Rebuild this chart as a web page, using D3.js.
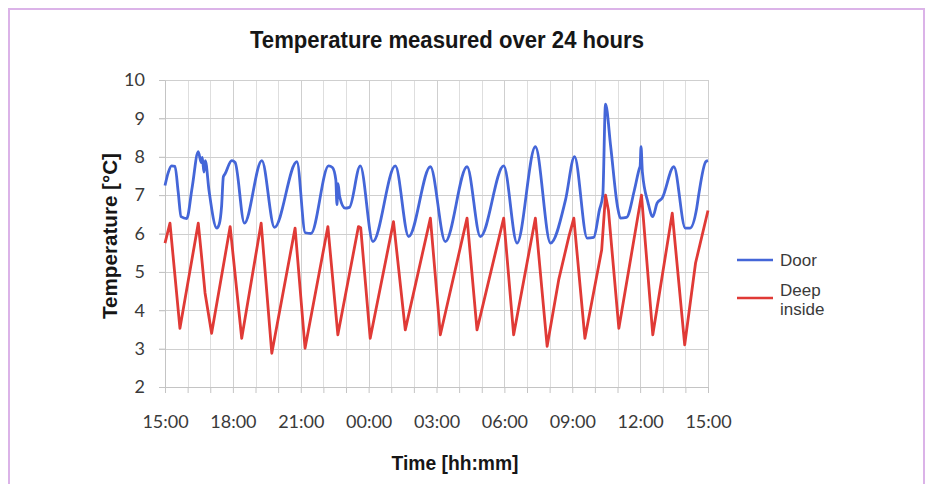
<!DOCTYPE html>
<meta charset="utf-8">
<style>
  body { margin: 0; background: #fff; }
  svg { display: block; }
  .axis text { font-family: Lato, "Open Sans", sans-serif; font-size: 18px; fill: #3a3a3a; }
  .axis path, .axis line { stroke: #c4c4c4; }
  .grid line { stroke: #dedede; shape-rendering: crispEdges; }
  .grid line.major { stroke: #cfcfcf; }
  .bold { font-family: "Liberation Sans Narrow", "Arial Narrow", "Liberation Sans", sans-serif; font-weight: bold; fill: #161616; }
  .legend text { font-family: "Liberation Sans", Arial, sans-serif; font-size: 17px; fill: #3a3a3a; }
</style>
<body>
<div id="chart"></div>
<script src="https://d3js.org/d3.v7.min.js"></script>
<script>
// hours after 15:00
const doorHours = [0, 0.15, 0.29, 0.44, 0.58, 0.71, 0.96, 1.2, 1.47, 1.6, 1.65, 1.72, 1.78, 1.95, 2.29, 2.4, 2.5, 2.58, 2.65, 2.95, 3.1, 3.51, 4.28, 4.84, 5.83, 6.2, 6.45, 7.23, 7.4, 7.55, 7.6, 7.65, 7.72, 7.96, 8.15, 8.63, 9.19, 10.18, 10.77, 11.73, 12.39, 13.35, 13.94, 14.97, 15.56, 16.37, 17.04, 17.7, 18.1, 18.66, 18.95, 19.2, 19.35, 19.47, 19.7, 20.0, 20.13, 20.4, 20.75, 20.97, 21.0, 21.04, 21.1, 21.35, 21.56, 21.75, 21.97, 22.49, 23.0, 23.2, 23.5, 23.6, 23.9, 24];
const doorTemp = [7.25, 7.6, 7.76, 7.75, 7.1, 6.44, 6.39, 7.2, 8.13, 7.85, 7.98, 7.6, 7.9, 7.1, 6.14, 6.25, 6.7, 7.48, 7.55, 7.9, 7.85, 6.27, 7.9, 6.16, 7.87, 6.02, 6.0, 7.76, 7.72, 7.4, 6.75, 7.3, 6.96, 6.66, 6.68, 7.76, 5.79, 7.76, 5.92, 7.74, 5.79, 7.74, 5.92, 7.76, 5.75, 8.26, 5.75, 6.87, 8.0, 5.88, 5.9, 6.61, 7.0, 9.37, 8.26, 6.7, 6.4, 6.42, 7.14, 7.7, 7.75, 8.26, 7.6, 6.8, 6.44, 6.79, 6.92, 7.74, 6.14, 6.14, 6.66, 7.05, 7.87, 7.9];

const deepHours = [0, 0.22, 0.66, 1.47, 1.6, 1.77, 2.06, 2.88, 3.39, 4.25, 4.72, 5.75, 6.19, 7.2, 7.64, 8.55, 8.65, 9.07, 10.1, 10.62, 11.73, 12.17, 13.35, 13.79, 14.97, 15.41, 16.37, 16.89, 17.4, 17.85, 18.07, 18.56, 19.3, 19.47, 19.6, 20.06, 21.06, 21.56, 22.42, 22.97, 23.45, 24];
const deepTemp = [5.75, 6.27, 3.53, 6.27, 5.5, 4.45, 3.4, 6.18, 3.27, 6.27, 2.88, 6.14, 3.01, 6.18, 3.36, 6.18, 6.15, 3.27, 6.31, 3.49, 6.4, 3.36, 6.4, 3.49, 6.4, 3.36, 6.4, 3.06, 4.79, 5.92, 6.4, 3.27, 5.57, 7.0, 6.6, 3.53, 7.0, 3.36, 6.53, 3.1, 5.23, 6.6];

const seriesNames = ["Door", "Deep inside"];
const seriesColors = ["#4466d8", "#e03a36"];
const yTicks = [2, 3, 4, 5, 6, 7, 8, 9, 10];

const W = 931, H = 484;
const margin = {top: 80, right: 223, bottom: 97, left: 165};

const start = new Date(2020, 0, 1, 15, 0);
const toDate = h => new Date(start.getTime() + h * 3600e3);

const x = d3.scaleTime()
  .domain([start, toDate(24)])
  .range([margin.left, W - margin.right]);
const y = d3.scaleLinear()
  .domain([2, 10])
  .range([H - margin.bottom, margin.top]);

const svg = d3.select('#chart').append('svg')
  .attr('width', W)
  .attr('height', H);

// outer frame
svg.append('rect')
  .attr('x', 9).attr('y', 9)
  .attr('width', 915).attr('height', 490)
  .attr('fill', '#fff')
  .attr('stroke', '#dbb3e8')
  .attr('stroke-width', 2);

const hours = d3.timeHour.range(start, toDate(24.01));

// grid
const grid = svg.append('g').attr('class', 'grid');
grid.selectAll('.v').data(hours).enter().append('line')
  .attr('class', d => d.getHours() % 3 === 0 ? 'v major' : 'v')
  .attr('x1', d => Math.round(x(d)) + 0.5).attr('x2', d => Math.round(x(d)) + 0.5)
  .attr('y1', y(10)).attr('y2', y(2));
grid.selectAll('.h').data(yTicks.slice(1)).enter().append('line')
  .attr('class', 'h major')
  .attr('x1', x.range()[0] - 6).attr('x2', x.range()[1])
  .attr('y1', d => Math.round(y(d)) + 0.5).attr('y2', d => Math.round(y(d)) + 0.5);

// axes
const fmt = d3.timeFormat('%H:%M');
svg.append('g')
  .attr('class', 'axis')
  .attr('transform', `translate(0,${y(2)})`)
  .call(d3.axisBottom(x)
    .tickValues(hours)
    .tickSizeInner(6).tickSizeOuter(0)
    .tickPadding(22)
    .tickFormat(d => d.getHours() % 3 === 0 ? fmt(d) : ''));

svg.append('g')
  .attr('class', 'axis')
  .attr('transform', `translate(${x.range()[0]},0)`)
  .call(d3.axisLeft(y)
    .tickValues(yTicks)
    .tickSizeInner(6).tickSizeOuter(0)
    .tickPadding(14)
    .tickFormat(d3.format('d')));

// lines
const doorData = doorHours.map((h, i) => ({t: toDate(h), v: doorTemp[i]}));
const deepData = deepHours.map((h, i) => ({t: toDate(h), v: deepTemp[i]}));

svg.append('path')
  .datum(deepData)
  .attr('fill', 'none')
  .attr('stroke', seriesColors[1])
  .attr('stroke-width', 2.8)
  .attr('stroke-linejoin', 'round')
  .attr('d', d3.line().x(d => x(d.t)).y(d => y(d.v)));

svg.append('path')
  .datum(doorData)
  .attr('fill', 'none')
  .attr('stroke', seriesColors[0])
  .attr('stroke-width', 2.8)
  .attr('stroke-linejoin', 'round')
  .attr('d', d3.line().x(d => x(d.t)).y(d => y(d.v)).curve(d3.curveMonotoneX));

// titles
svg.append('text')
  .attr('class', 'bold')
  .attr('x', 447).attr('y', 48)
  .attr('text-anchor', 'middle')
  .attr('font-size', 23)
  .attr('textLength', 394).attr('lengthAdjust', 'spacingAndGlyphs')
  .text('Temperature measured over 24 hours');

svg.append('text')
  .attr('class', 'bold')
  .attr('x', 455).attr('y', 470)
  .attr('text-anchor', 'middle')
  .attr('font-size', 21)
  .attr('textLength', 127).attr('lengthAdjust', 'spacingAndGlyphs')
  .text('Time [hh:mm]');

svg.append('text')
  .attr('class', 'bold')
  .attr('transform', 'translate(117,236) rotate(-90)')
  .attr('text-anchor', 'middle')
  .attr('font-size', 21)
  .attr('textLength', 166).attr('lengthAdjust', 'spacingAndGlyphs')
  .text('Temperature [°C]');

// legend
const legend = svg.append('g').attr('class', 'legend');
const rows = [{y: 260, lines: ['Door']}, {y: 298, lines: ['Deep', 'inside']}];
rows.forEach((r, i) => {
  legend.append('line')
    .attr('x1', 737).attr('x2', 773)
    .attr('y1', r.y).attr('y2', r.y)
    .attr('stroke', seriesColors[i])
    .attr('stroke-width', 2.6);
  const t = legend.append('text')
    .attr('x', 780)
    .attr('y', r.lines.length === 1 ? r.y + 6 : r.y - 2);
  r.lines.forEach((s, j) => {
    t.append('tspan').attr('x', 780).attr('dy', j === 0 ? 0 : 19).text(s);
  });
});
</script>
</body>
</html>
